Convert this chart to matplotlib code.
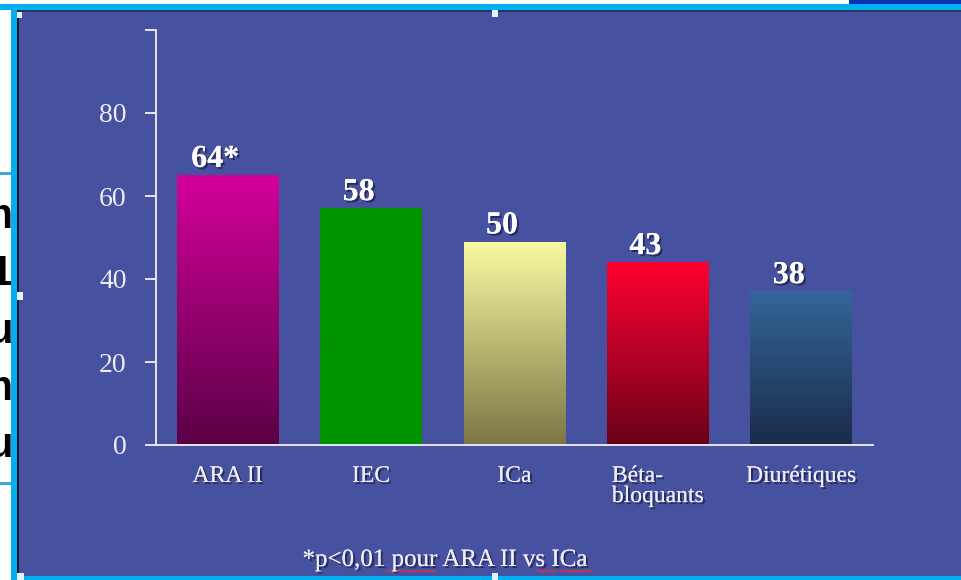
import numpy as np
import matplotlib
matplotlib.use("Agg")
import matplotlib.pyplot as plt
from matplotlib.patches import Rectangle
from matplotlib.colors import LinearSegmentedColormap
import matplotlib.patheffects as pe

# ---- data ----
categories = ["ARA II", "IEC", "ICa", "Béta-\nbloquants", "Diurétiques"]
values = [65, 57, 49, 44, 37]          # bar heights
value_labels = ["64*", "58", "50", "43", "38"]
yticks = [0, 20, 40, 60, 80, 100]
ytick_labels = ["0", "20", "40", "60", "80", ""]
footnote = "*p<0,01 pour ARA II vs ICa"
side_letters = ["m", "1", "u", "m", "u"]

# gradient colours (top, bottom)
grad_top = ["#D4009A", "#009300", "#FAFAA2", "#FF0030", "#336699"]
grad_bot = ["#5A0046", "#009300", "#7C7644", "#6A0018", "#1B2B49"]

SLIDE = "#4651A0"
CYAN = "#00B0F0"
TXT = "#EDEDF5"
SERIF = "Liberation Serif"

W, H = 961, 580
fig = plt.figure(figsize=(W / 100, H / 100), dpi=100)
fig.patch.set_facecolor(SLIDE)

# ---- background decorations in pixel coordinates ----
bg = fig.add_axes([0, 0, 1, 1], zorder=0)
bg.set_xlim(0, W)
bg.set_ylim(H, 0)
bg.axis("off")

def rect(x, y, w, h, c, z=1):
    bg.add_patch(Rectangle((x, y), w, h, facecolor=c, edgecolor="none", zorder=z))

rect(0, 0, 849, 4, "white")
rect(849, 0, 112, 4, "#0634B4")
rect(0, 4, W, 6, CYAN)
rect(17, 10, W - 17, 2, "#1E3A5C")
rect(0, 10, 11, H - 10, "white")
rect(0, 172, 11, 2.5, "#3AA8E0")
rect(0, 482, 11, 2.5, "#3AA8E0")
rect(11, 4, 6, H - 4, CYAN)
rect(17, 10, 1.5, H - 10, "#0E1628")
rect(17, 576, W - 17, 4, CYAN)
for (hx, hy, hw, hh) in [(17, 12, 5, 6), (492, 10, 6, 7), (17, 292, 6, 8),
                         (492, 573, 6, 7), (17, 573, 7, 7)]:
    rect(hx, hy, hw, hh, "#E4F4FF", z=3)

# spell-check wavy underlines under footnote words
for (x0, x1) in [(387, 436), (537, 556), (560, 592)]:
    xs = np.linspace(x0, x1, int((x1 - x0) / 2) + 1)
    ys = 571 + 1.0 * np.where(np.arange(len(xs)) % 2 == 0, -1, 1)
    bg.plot(xs, ys, color="#E03040", lw=0.8, zorder=4)

# footnote
shadow = [pe.withSimplePatchShadow(offset=(1.5, -1.5), shadow_rgbFace="#1A1A40", alpha=0.7),
          pe.Normal()]
bg.text(445, 566, footnote, ha="center", va="baseline", color=TXT,
        fontsize=18, family=SERIF, zorder=5, path_effects=shadow)

# ---- left cut-off text strip ----
strip = fig.add_axes([0, 0, 11 / W, 1], zorder=1)
strip.set_xlim(0, 11)
strip.set_ylim(H, 0)
strip.axis("off")
strip.patch.set_alpha(0)
for letter, yb in zip(side_letters, [228, 285, 343, 400, 457]):
    strip.text(12.5, yb, letter, ha="right", va="baseline", fontsize=30,
               fontweight="bold", family="Liberation Sans", color="black", clip_on=True)

# ---- main chart ----
ax = fig.add_axes([156 / W, (H - 445) / H, 717 / W, 415 / H], zorder=2)
ax.patch.set_alpha(0)
x = np.arange(len(categories))
bars = ax.bar(x, values, width=0.71, color="none", edgecolor="none")
ax.set_xlim(-0.5, 4.5)
ax.set_ylim(0, 100)

for b, ct, cb in zip(bars, grad_top, grad_bot):
    cmap = LinearSegmentedColormap.from_list("g", [cb, ct])
    grad = np.linspace(0, 1, 256).reshape(-1, 1)
    x0, w, h = b.get_x(), b.get_width(), b.get_height()
    im = ax.imshow(grad, extent=[x0, x0 + w, 0, h], origin="lower", cmap=cmap,
                   aspect="auto", interpolation="bicubic", zorder=2)
    im.set_clip_path(b)

ax.set_xlim(-0.5, 4.5)
ax.set_ylim(0, 100)

for b, lab in zip(bars, value_labels):
    ax.annotate(lab, (b.get_x() + b.get_width() / 2, b.get_height()),
                xytext=(-9, 6), textcoords="offset points", ha="center",
                va="baseline", fontsize=23, fontweight="bold", family=SERIF,
                color="white", zorder=5, path_effects=shadow)

for s in ["top", "right"]:
    ax.spines[s].set_visible(False)
for s in ["left", "bottom"]:
    ax.spines[s].set_color("#E8E8F0")
    ax.spines[s].set_linewidth(1.4)

ax.set_yticks(yticks)
ax.set_yticklabels(ytick_labels, fontsize=20, family=SERIF, color=TXT)
ax.tick_params(axis="y", length=8, width=1.4, color="#E8E8F0", pad=13)

ax.set_xticks(x)
ax.set_xticklabels(categories, fontsize=17, family=SERIF, color=TXT)
ax.tick_params(axis="x", length=0, pad=15)
for t in ax.get_xticklabels():
    t.set_multialignment("left")
    t.set_linespacing(0.95)
    t.set_path_effects(shadow)

fig.savefig("out.png", dpi=100, facecolor=fig.get_facecolor())
